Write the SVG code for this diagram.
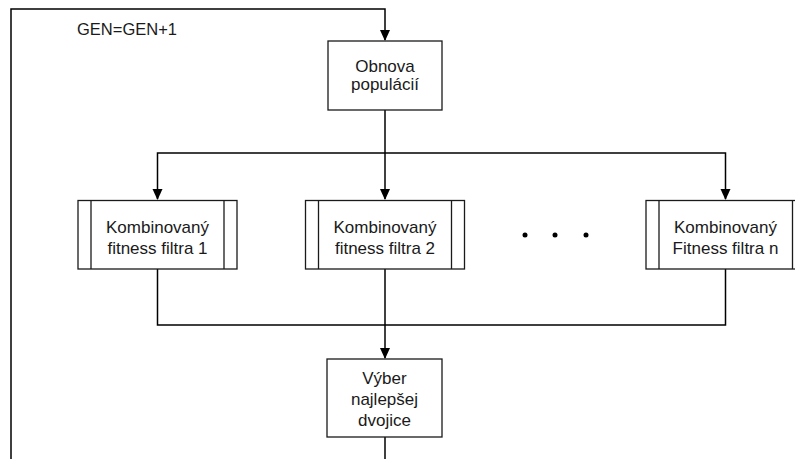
<svg xmlns="http://www.w3.org/2000/svg" width="795" height="459" viewBox="0 0 795 459">
  <style>
    .box { fill: #ffffff; stroke: #1a1a1a; stroke-width: 1.3; }
    .bar { stroke: #1a1a1a; stroke-width: 1.3; }
    .wire { fill: none; stroke: #000000; stroke-width: 1.5; }
    .head { fill: #000000; }
    .lbl { font-family: "Liberation Sans", Arial, sans-serif; font-size: 17px; fill: #1a1a1a; text-anchor: middle; }
    .note { font-family: "Liberation Sans", Arial, sans-serif; font-size: 16.5px; fill: #1a1a1a; }
    .dot { fill: #000000; }
  </style>
  <rect width="795" height="459" fill="#ffffff"/>

  <g id="connectors">
    <!-- generation loop back into the population update -->
    <path class="wire" d="M11,459 V9 H385 V40"/>
    <path class="head" d="M380,30 L390,30 L385,41 Z"/>
    <!-- fan-out to the filters -->
    <path class="wire" d="M385,110 V153"/>
    <path class="wire" d="M157.5,199 V153 H725.5 V199"/>
    <path class="wire" d="M385,153 V199"/>
    <path class="head" d="M152.5,189 L162.5,189 L157.5,200 Z"/>
    <path class="head" d="M380,189 L390,189 L385,200 Z"/>
    <path class="head" d="M720.5,189 L730.5,189 L725.5,200 Z"/>
    <!-- fan-in to the selection -->
    <path class="wire" d="M157.5,269 V325 H725.5 V269"/>
    <path class="wire" d="M385,269 V358"/>
    <path class="head" d="M380,348 L390,348 L385,359 Z"/>
    <path class="wire" d="M385,437 V459"/>
  </g>

  <text class="note" x="77" y="35">GEN=GEN+1</text>

  <g id="obnova">
    <rect class="box" x="328" y="41" width="114" height="69"/>
    <text class="lbl" x="385" y="72">Obnova</text>
    <text class="lbl" x="385" y="89.5">populácií</text>
  </g>

  <g id="filter1">
    <rect class="box" x="78" y="200.5" width="159" height="68.5"/>
    <line class="bar" x1="91" y1="200.5" x2="91" y2="269"/>
    <line class="bar" x1="224" y1="200.5" x2="224" y2="269"/>
    <text class="lbl" x="157.5" y="233">Kombinovaný</text>
    <text class="lbl" x="157.5" y="253.5">fitness filtra 1</text>
  </g>

  <g id="filter2">
    <rect class="box" x="305.5" y="200.5" width="159" height="68.5"/>
    <line class="bar" x1="318.5" y1="200.5" x2="318.5" y2="269"/>
    <line class="bar" x1="451.5" y1="200.5" x2="451.5" y2="269"/>
    <text class="lbl" x="385" y="233">Kombinovaný</text>
    <text class="lbl" x="385" y="253.5">fitness filtra 2</text>
  </g>

  <g id="ellipsis">
    <circle class="dot" cx="525" cy="235" r="2.5"/>
    <circle class="dot" cx="555" cy="235" r="2.5"/>
    <circle class="dot" cx="586" cy="235" r="2.5"/>
  </g>

  <g id="filterN">
    <rect class="box" x="646" y="200.5" width="159" height="68.5"/>
    <line class="bar" x1="659" y1="200.5" x2="659" y2="269"/>
    <line class="bar" x1="792.5" y1="200.5" x2="792.5" y2="269"/>
    <text class="lbl" x="725.5" y="233">Kombinovaný</text>
    <text class="lbl" x="725.5" y="253.5">Fitness filtra n</text>
  </g>

  <g id="vyber">
    <rect class="box" x="327" y="359" width="115" height="78"/>
    <text class="lbl" x="384.5" y="384">Výber</text>
    <text class="lbl" x="384.5" y="405">najlepšej</text>
    <text class="lbl" x="384.5" y="426">dvojice</text>
  </g>
</svg>
